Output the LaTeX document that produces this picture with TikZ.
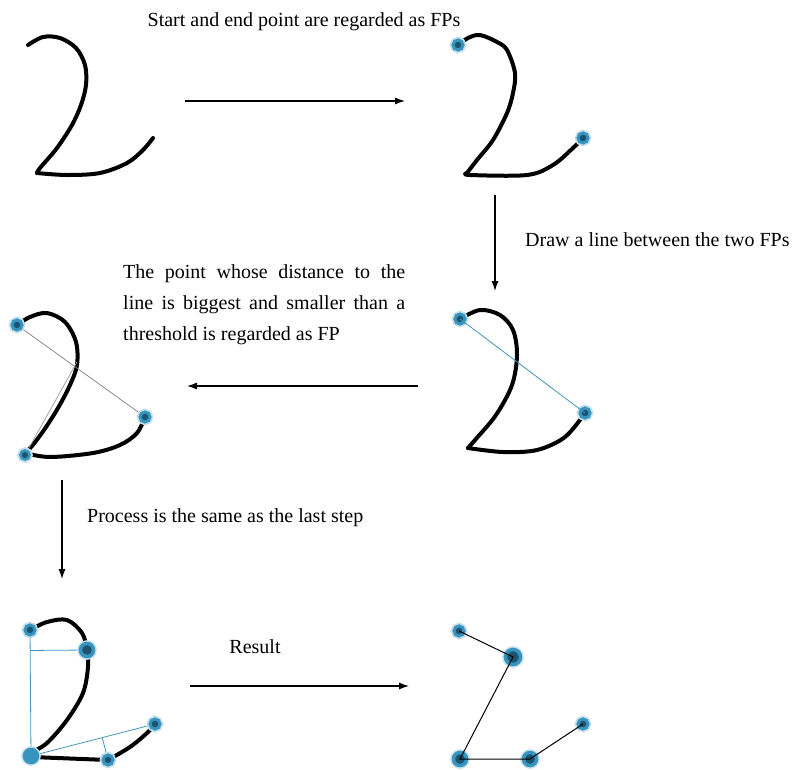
\documentclass[tikz,border=0pt]{standalone}
\usepackage{fontspec}
\setmainfont{Liberation Serif}
\usetikzlibrary{arrows.meta,calc}
\definecolor{fpcol}{RGB}{55,148,190}
\definecolor{fpcore}{RGB}{28,84,112}
\definecolor{chordcol}{RGB}{70,150,185}

\begin{document}
\begin{tikzpicture}[x=1pt,y=-1pt,
  stroke/.style={line width=4pt, line cap=round, line join=round},
  fp/.style={circle, inner sep=0pt, minimum size=10pt, draw=fpcol, line width=3pt,
             fill=fpcore, preaction={draw=fpcol!30, line width=6.5pt}},
  fpbig/.style={fp, minimum size=13pt, line width=3.5pt},
  flow/.style={line width=1.1pt, -{Latex[length=10pt,width=7pt]}},
  chord/.style={chordcol, line width=0.8pt},
  link/.style={black, line width=1pt},
  lbl/.style={font=\fontsize{20}{31}\selectfont, inner sep=0pt}]

\useasboundingbox (0,0) rectangle (795,769);
\fill[white] (0,0) rectangle (795,769);

% ---------- stage 1: raw stroke ----------
\draw[stroke] plot[smooth, tension=0.55] coordinates
  {(28,45) (43,37) (60,38) (76,48) (85,65) (86,85) (81,105) (72,125) (57,148) (40,168) (37,173)};
\draw[stroke] plot[smooth, tension=0.55] coordinates
  {(37,173) (67,175) (100,173) (127,163) (143,150) (153,138)};

% ---------- stage 2: start and end point ----------
\draw[stroke] plot[smooth, tension=0.55] coordinates
  {(458,45) (468,38) (480,35) (497,42) (507,50) (515,73) (513,93) (507,113) (493,140) (477,160) (467,173)};
\draw[stroke] plot[smooth, tension=0.55] coordinates
  {(467,173) (470,175) (527,175) (553,165) (573,148) (583,138)};
\node[fp] (s2a) at (458,45) {};
\node[fp] (s2b) at (583,138) {};

% ---------- stage 3: chord between the two FPs ----------
\draw[stroke] plot[smooth, tension=0.55] coordinates
  {(460,319) (480,310) (500,315) (513,330) (517,355) (512,385) (496,415) (475,440) (468,448)};
\draw[stroke] plot[smooth, tension=0.55] coordinates
  {(468,448) (503,452) (537,450) (565,437) (585,413)};
\node[fp] (s3a) at (460,319) {};
\node[fp] (s3b) at (585,413) {};
\draw[chord] (s3a.center) -- (s3b.center);

% ---------- stage 4: farthest point becomes FP ----------
\draw[stroke] plot[smooth, tension=0.55] coordinates
  {(17,325) (30,317) (47,313) (65,322) (76,342) (77,365) (70,385) (58,408) (44,430) (32,446) (25,453)};
\draw[stroke] plot[smooth, tension=0.55] coordinates
  {(25,453) (50,457) (93,453) (120,445) (137,433) (145,417)};
\coordinate (s4x) at (77,362);
\draw[gray, line width=0.7pt] (17,325) -- (145,417);
\draw[gray!80, line width=0.7pt] (25,455) -- (s4x);
\node[fp] (s4a) at (17,325) {};
\node[fp] (s4b) at (145,417) {};
\node[fp, minimum size=9pt, line width=2.6pt] (s4c) at (25,455) {};

% ---------- stage 5: repeated subdivision ----------
\draw[stroke] plot[smooth, tension=0.55] coordinates
  {(30,630) (47,622) (67,620) (82,633) (87,650) (88,667) (83,693) (67,720) (47,743) (32,752)};
\draw[stroke] (32,757) -- (108,760);
\draw[stroke] plot[smooth, tension=0.55] coordinates
  {(108,760) (130,747) (147,733) (155,724)};
\coordinate (A) at (30,630);
\coordinate (C) at (31,756);
\coordinate (E) at (155,724);
\draw[chord] (A) -- (C);
\draw[chord] ($(A)!(87,650)!(C)$) -- (87,650);
\draw[chord] (C) -- (E);
\draw[chord] ($(C)!(108,760)!(E)$) -- (108,760);
\node[fp] (s5a) at (A) {};
\node[fpbig] (s5b) at (87,650) {};
\node[fpbig, fill=fpcol] (s5c) at (C) {};
\node[fp] (s5d) at (108,760) {};
\node[fp] (s5e) at (E) {};

% ---------- stage 6: resulting polyline ----------
\coordinate (p1) at (459,631);
\coordinate (p2) at (513,657);
\coordinate (p3) at (460,759);
\coordinate (p4) at (530,759);
\coordinate (p5) at (583,724);
\node[fp] (r1) at (p1) {};
\node[fpbig, minimum size=15pt] (r2) at (p2) {};
\node[fpbig] (r3) at (p3) {};
\node[fpbig] (r4) at (p4) {};
\node[fp] (r5) at (p5) {};
\draw[link] (r1.center) -- (r2.center) -- (r3.center) -- (r4.center) -- (r5.center);

% ---------- arrows ----------
\coordinate (a1s) at (185,101); \coordinate (a1e) at (405,101);
\coordinate (a2s) at (495,195); \coordinate (a2e) at (495,291);
\coordinate (a3s) at (418,386); \coordinate (a3e) at (187,386);
\coordinate (a4s) at (62,480);  \coordinate (a4e) at (62,579);
\coordinate (a5s) at (190,686); \coordinate (a5e) at (409,686);
\draw[flow] (a1s) -- (a1e);
\draw[flow] (a2s) -- (a2e);
\draw[flow] (a3s) -- (a3e);
\draw[flow] (a4s) -- (a4e);
\draw[flow] (a5s) -- (a5e);

% ---------- labels ----------
\node[lbl] (t1) at (304,22) {Start and end point are regarded as FPs};
\node[lbl, anchor=west] (t2) at (525,240) {Draw a line between the two FPs};
\node[lbl, anchor=north west, text width=282pt, align=justify] (t3) at (123,264)
  {The point whose distance to the\linebreak line is biggest and smaller than a\linebreak threshold is regarded as FP};
\node[lbl, anchor=west] (t4) at (87,518) {Process is the same as the last step};
\node[lbl] (t5) at (255,647) {Result};

\end{tikzpicture}
\end{document}
